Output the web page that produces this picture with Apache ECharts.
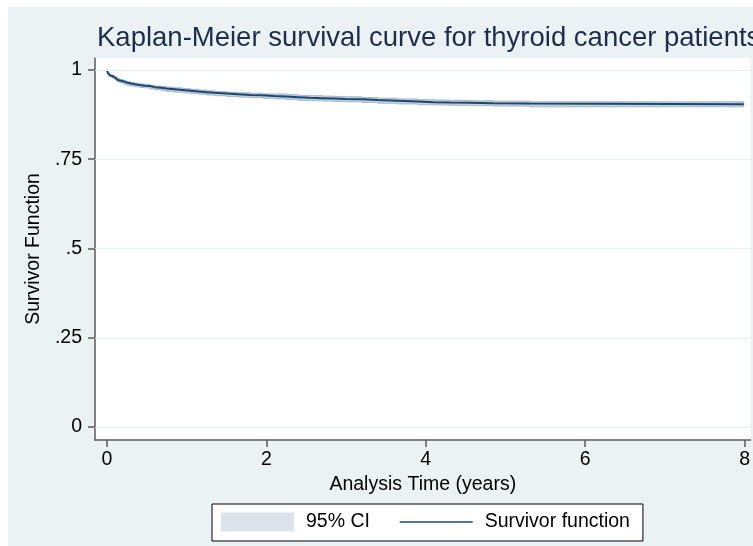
<!DOCTYPE html>
<html>
<head>
<meta charset="utf-8">
<script src="https://cdn.jsdelivr.net/npm/echarts@6/dist/echarts.min.js"></script>
<style>
  html, body { margin: 0; padding: 0; background: #fff; }
  #chart { width: 753px; height: 546px; }
</style>
</head>
<body>
<div id="chart"></div>
<script>
// ===================================================
//  DATOS
// ===================================================
const times  = [0, 0.01, 0.02, 0.035, 0.05, 0.07, 0.09, 0.11, 0.135, 0.16, 0.19, 0.225, 0.26, 0.3, 0.35, 0.41, 0.475, 0.54, 0.6, 0.68, 0.75, 0.85, 0.95, 1.05, 1.15, 1.25, 1.35, 1.5, 1.65, 1.8, 1.95, 2.1, 2.25, 2.4, 2.55, 2.7, 2.85, 3.0, 3.2, 3.4, 3.65, 3.9, 4.1, 4.3, 4.55, 4.85, 5.3, 7.99];
const surv   = [1.000, 0.992, 0.989, 0.985, 0.983, 0.981, 0.978, 0.975, 0.972, 0.969, 0.967, 0.964, 0.962, 0.960, 0.958, 0.956, 0.955, 0.952, 0.950, 0.948, 0.946, 0.944, 0.942, 0.940, 0.938, 0.936, 0.934, 0.932, 0.930, 0.929, 0.927, 0.926, 0.924, 0.922, 0.921, 0.920, 0.919, 0.918, 0.916, 0.914, 0.912, 0.910, 0.909, 0.908, 0.907, 0.906, 0.904, 0.904];
const ciLow  = [1.000, 0.990, 0.986, 0.982, 0.980, 0.977, 0.974, 0.971, 0.968, 0.965, 0.962, 0.959, 0.957, 0.955, 0.953, 0.951, 0.950, 0.947, 0.945, 0.942, 0.940, 0.938, 0.936, 0.934, 0.932, 0.930, 0.928, 0.926, 0.924, 0.923, 0.921, 0.919, 0.917, 0.915, 0.914, 0.913, 0.912, 0.911, 0.909, 0.907, 0.905, 0.903, 0.902, 0.901, 0.900, 0.899, 0.897, 0.897];
const ciHigh = [1.000, 0.994, 0.992, 0.988, 0.986, 0.985, 0.982, 0.979, 0.976, 0.973, 0.972, 0.969, 0.967, 0.965, 0.963, 0.961, 0.960, 0.957, 0.955, 0.954, 0.952, 0.950, 0.948, 0.946, 0.944, 0.942, 0.940, 0.938, 0.936, 0.935, 0.933, 0.933, 0.931, 0.929, 0.928, 0.927, 0.926, 0.925, 0.923, 0.921, 0.919, 0.917, 0.916, 0.915, 0.914, 0.913, 0.911, 0.911];

const xTicks = [0, 2, 4, 6, 8];
const yTicks = [0, 0.25, 0.5, 0.75, 1];
const yTickLabels = ['0', '.25', '.5', '.75', '1'];

// ===================================================
//  GRÁFICO
// ===================================================
(function () {
    const el = document.getElementById('chart');
    const chart = echarts.init(el);

    const font = '"Liberation Sans", Arial, sans-serif';
    const navy = '#1a476f';
    const fs = 19.5;

    const survPts = times.map((t, i) => [t, surv[i]]);

    // Banda del IC como polígono escalonado
    function renderBand(params, api) {
        const up = [], lo = [];
        for (let i = 0; i < times.length; i++) {
            up.push(api.coord([times[i], ciHigh[i]]));
            lo.push(api.coord([times[i], ciLow[i]]));
            if (i + 1 < times.length) {
                up.push(api.coord([times[i + 1], ciHigh[i]]));
                lo.push(api.coord([times[i + 1], ciLow[i]]));
            }
        }
        return {
            type: 'polygon',
            shape: { points: up.concat(lo.reverse()) },
            style: { fill: '#c5d1dd', stroke: '#a6b8ca', lineWidth: 1 }
        };
    }

    const option = {
        backgroundColor: '#ffffff',
        animation: false,
        textStyle: { fontFamily: font },
        graphic: [{
            type: 'rect',
            z: -10,
            shape: { x: 8, y: 7, width: 760, height: 560 },
            style: { fill: '#eaf2f3' }
        }],
        title: {
            text: 'Kaplan-Meier survival curve for thyroid cancer patients',
            left: 97,
            top: 24,
            padding: 0,
            textStyle: { fontFamily: font, fontSize: 27.5, fontWeight: 'normal', color: '#1e2d4e' }
        },
        grid: {
            left: 95, top: 58, right: 0, bottom: 106,
            show: true, backgroundColor: '#ffffff', borderWidth: 0
        },
        legend: {
            left: 212, top: 504,
            padding: [8, 13, 9, 9],
            backgroundColor: '#ffffff',
            borderColor: '#000000',
            borderWidth: 1,
            borderRadius: 0,
            itemWidth: 73,
            itemHeight: 19,
            itemGap: 29,
            textStyle: { fontFamily: font, fontSize: fs, lineHeight: 19, color: '#000', padding: [0, 0, 0, 7] },
            data: [
                { name: '95% CI', icon: 'rect', itemStyle: { color: '#dce3ea', borderWidth: 0 } },
                { name: 'Survivor function', itemStyle: { opacity: 0 }, lineStyle: { color: navy, width: 1.5 } }
            ]
        },
        xAxis: {
            type: 'value',
            min: -0.15,
            max: 8.075,
            name: 'Analysis Time (years)',
            nameLocation: 'middle',
            nameGap: 29,
            nameTextStyle: { fontFamily: font, fontSize: fs, color: '#000' },
            axisLine: { show: true, onZero: false, lineStyle: { color: '#5a5a5a', width: 1.5 } },
            axisTick: { show: true, length: 7, customValues: xTicks, lineStyle: { color: '#5a5a5a', width: 1.5 } },
            axisLabel: { customValues: xTicks, margin: 10, fontFamily: font, fontSize: fs, color: '#000' },
            splitLine: { show: false }
        },
        yAxis: {
            type: 'value',
            min: -0.0364,
            max: 1.0336,
            name: 'Survivor Function',
            nameLocation: 'middle',
            nameGap: 44,
            nameTextStyle: { fontFamily: font, fontSize: fs, color: '#000' },
            axisLine: { show: true, onZero: false, lineStyle: { color: '#5a5a5a', width: 1.5 } },
            axisTick: { show: true, length: 7, customValues: yTicks, lineStyle: { color: '#5a5a5a', width: 1.5 } },
            axisLabel: {
                customValues: yTicks,
                margin: 13,
                fontFamily: font, fontSize: fs, color: '#000',
                formatter: v => {
                    const i = yTicks.findIndex(t => Math.abs(t - v) < 1e-6);
                    return i >= 0 ? yTickLabels[i] : '';
                }
            },
            splitLine: { show: false }
        },
        series: [
            {
                name: '95% CI',
                type: 'custom',
                silent: true,
                data: [[0, 1]],
                renderItem: renderBand,
                itemStyle: { color: '#dce3ea' },
                z: 2
            },
            {
                name: 'Survivor function',
                type: 'line',
                step: 'end',
                symbol: 'none',
                data: survPts,
                lineStyle: { color: navy, width: 2 },
                itemStyle: { color: navy },
                markLine: {
                    silent: true,
                    symbol: 'none',
                    label: { show: false },
                    lineStyle: { color: '#e6eef0', width: 1, type: 'solid' },
                    data: yTicks.map(v => ({ yAxis: v }))
                },
                z: 3
            }
        ]
    };

    chart.setOption(option);
})();
</script>
</body>
</html>
